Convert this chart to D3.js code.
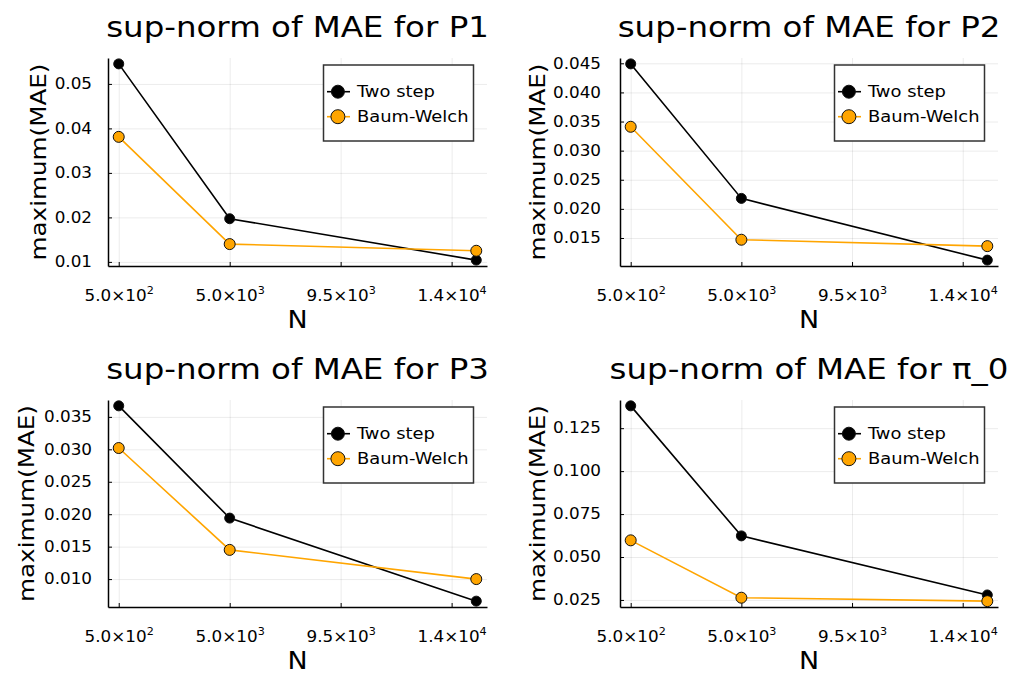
<!DOCTYPE html>
<html>
<head>
<meta charset="utf-8">
<script src="https://cdn.jsdelivr.net/npm/d3@7"></script>
<style>
body { margin: 0; background: #fff; }
text { font-family: "DejaVu Sans", sans-serif; fill: #000; }
</style>
</head>
<body>
<div id="chart"></div>
<script>
// sample sizes and x ticks (shared by all four panels)
var sampleSizes = [500, 5000, 15000];
var xTickValues = [500, 5000, 9500, 14000];
var xTickMantissa = ["5.0", "5.0", "9.5", "1.4"];
var xTickExponent = ["2", "3", "3", "4"];

var seriesNames = ["Two step", "Baum-Welch"];
var titles = ["sup-norm of MAE for P1", "sup-norm of MAE for P2",
              "sup-norm of MAE for P3", "sup-norm of MAE for π_0"];

var twoStepP1 = [0.0545, 0.0197, 0.0104];
var baumWelchP1 = [0.0381, 0.0140, 0.0125];
var twoStepP2 = [0.0449, 0.0218, 0.0112];
var baumWelchP2 = [0.0341, 0.0147, 0.0136];
var twoStepP3 = [0.0367, 0.0194, 0.0066];
var baumWelchP3 = [0.0302, 0.0145, 0.0100];
var twoStepPi = [0.1380, 0.0623, 0.0279];
var baumWelchPi = [0.0597, 0.0263, 0.0243];

var yTicksP1 = [0.01, 0.02, 0.03, 0.04, 0.05];
var yTicksP2 = [0.015, 0.020, 0.025, 0.030, 0.035, 0.040, 0.045];
var yTicksP3 = [0.010, 0.015, 0.020, 0.025, 0.030, 0.035];
var yTicksPi = [0.025, 0.050, 0.075, 0.100, 0.125];

var panels = [
  { title: titles[0], twoStep: twoStepP1, baumWelch: baumWelchP1, yTicks: yTicksP1, fmt: ".2f" },
  { title: titles[1], twoStep: twoStepP2, baumWelch: baumWelchP2, yTicks: yTicksP2, fmt: ".3f" },
  { title: titles[2], twoStep: twoStepP3, baumWelch: baumWelchP3, yTicks: yTicksP3, fmt: ".3f" },
  { title: titles[3], twoStep: twoStepPi, baumWelch: baumWelchPi, yTicks: yTicksPi, fmt: ".3f" }
];

// plot areas of the 2x2 grid
var layout = [
  { left: 108, right: 487, top: 58, bottom: 266, gap: 16, ylabelX: 46 },
  { left: 620, right: 998, top: 58, bottom: 266, gap: 19, ylabelX: 545 },
  { left: 108, right: 487, top: 400, bottom: 607, gap: 16, ylabelX: 34 },
  { left: 620, right: 998, top: 400, bottom: 607, gap: 19, ylabelX: 545 }
];

var colors = ["#000000", "#FFA500"];
var stretch = 1.12; // reference font runs wider than DejaVu

var svg = d3.select("#chart")
  .append("svg")
  .attr("width", 1018)
  .attr("height", 676);

panels.forEach(function(p, k) {
  var box = layout[k];
  var w = box.right - box.left;
  var h = box.bottom - box.top;

  var g = svg.append("g")
    .attr("transform", `translate(${box.left}, ${box.top})`);

  var xPad = (d3.max(sampleSizes) - d3.min(sampleSizes)) * 0.03;
  var xScale = d3.scaleLinear()
    .domain([d3.min(sampleSizes) - xPad, d3.max(sampleSizes) + xPad])
    .range([0, w]);

  var all = p.twoStep.concat(p.baumWelch);
  var yPad = (d3.max(all) - d3.min(all)) * 0.03;
  var yScale = d3.scaleLinear()
    .domain([d3.min(all) - yPad, d3.max(all) + yPad])
    .range([h, 0]);

  // grid lines
  g.append("g").attr("class", "grid")
    .attr("transform", `translate(0, ${h})`)
    .call(d3.axisBottom(xScale).tickValues(xTickValues).tickSize(-h).tickFormat(""));
  g.append("g").attr("class", "grid")
    .call(d3.axisLeft(yScale).tickValues(p.yTicks).tickSize(-w).tickFormat(""));
  g.selectAll(".grid .domain").remove();
  g.selectAll(".grid line")
    .attr("stroke", "#000")
    .attr("stroke-opacity", 0.1)
    .attr("stroke-width", 0.8);

  // y axis
  var yAxis = g.append("g")
    .call(d3.axisLeft(yScale).tickValues(p.yTicks).tickSizeInner(-4).tickSizeOuter(0)
      .tickFormat(d3.format(p.fmt)));
  yAxis.attr("font-family", null).attr("font-size", 15);
  yAxis.selectAll(".tick text")
    .attr("x", 0)
    .attr("transform", `translate(${-box.gap}, 0) scale(${stretch}, 1)`);

  // x axis
  var xAxis = g.append("g")
    .attr("transform", `translate(0, ${h})`)
    .call(d3.axisBottom(xScale).tickValues(xTickValues).tickSizeInner(-4).tickSizeOuter(0).tickFormat(""));
  xAxis.attr("font-family", null).attr("font-size", 15);
  xAxis.selectAll(".tick text").remove();
  xAxis.selectAll(".tick").each(function(d, i) {
    var t = d3.select(this).append("text")
      .attr("text-anchor", "middle")
      .attr("transform", `translate(0, 35) scale(${stretch}, 1)`);
    t.append("tspan").text(xTickMantissa[i] + "×10");
    t.append("tspan").attr("font-size", 10).attr("dy", -7).text(xTickExponent[i]);
  });

  g.selectAll(".domain").attr("stroke", "#000").attr("stroke-width", 1.5);
  yAxis.selectAll(".tick line").attr("stroke", "#000");
  xAxis.selectAll(".tick line").attr("stroke", "#000");

  // series
  var line = d3.line()
    .x(function(d, i) { return xScale(sampleSizes[i]); })
    .y(function(d) { return yScale(d); });

  [p.twoStep, p.baumWelch].forEach(function(vals, j) {
    g.append("path")
      .datum(vals)
      .attr("fill", "none")
      .attr("stroke", colors[j])
      .attr("stroke-width", 1.6)
      .attr("d", line);
    g.selectAll(".pt" + j)
      .data(vals)
      .enter()
      .append("circle")
      .attr("cx", function(d, i) { return xScale(sampleSizes[i]); })
      .attr("cy", function(d) { return yScale(d); })
      .attr("r", j == 0 ? 5 : 5.5)
      .attr("fill", colors[j])
      .attr("stroke", "#111")
      .attr("stroke-width", 1);
  });

  // legend
  var lg = g.append("g")
    .attr("transform", `translate(${w - 13.5 - 150}, 7)`);
  lg.append("rect")
    .attr("width", 150)
    .attr("height", 76)
    .attr("fill", "#fff")
    .attr("stroke", "#333")
    .attr("stroke-width", 1.5);
  seriesNames.forEach(function(name, j) {
    var yy = 26.7 + j * 25;
    lg.append("line")
      .attr("x1", 3.5).attr("x2", 26.5)
      .attr("y1", yy).attr("y2", yy)
      .attr("stroke", colors[j])
      .attr("stroke-width", 1.6);
    lg.append("circle")
      .attr("cx", 14.4).attr("cy", yy)
      .attr("r", j == 0 ? 6.5 : 7)
      .attr("fill", colors[j])
      .attr("stroke", "#111")
      .attr("stroke-width", 1);
    lg.append("text")
      .attr("font-size", 16)
      .attr("transform", `translate(33.4, ${yy + 5.5}) scale(${stretch}, 1)`)
      .text(name);
  });

  // title and axis labels
  g.append("text")
    .attr("font-size", 29)
    .attr("text-anchor", "middle")
    .attr("transform", `translate(${w / 2}, -21) scale(${stretch}, 1)`)
    .text(p.title);

  g.append("text")
    .attr("font-size", 24)
    .attr("text-anchor", "middle")
    .attr("transform", `translate(${w / 2}, ${h + 62}) scale(${stretch}, 1)`)
    .text("N");

  svg.append("text")
    .attr("font-size", 22)
    .attr("text-anchor", "middle")
    .attr("transform", `translate(${box.ylabelX}, ${(box.top + box.bottom) / 2}) rotate(-90) scale(${stretch}, 1)`)
    .text("maximum(MAE)");
});
</script>
</body>
</html>
